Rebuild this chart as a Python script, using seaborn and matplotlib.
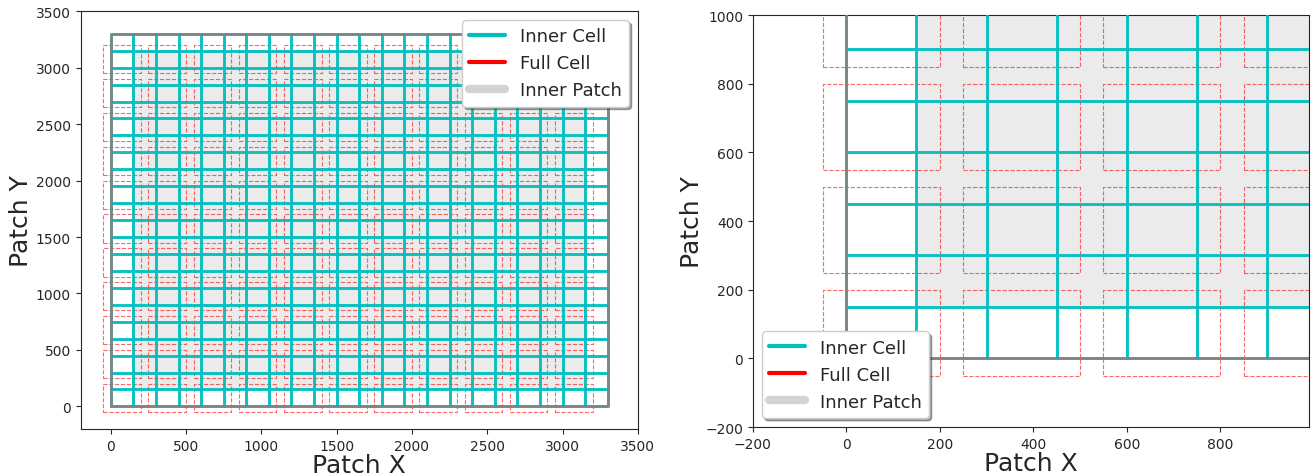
import pandas as pd
import seaborn as sns
import matplotlib.pyplot as plt
from matplotlib.lines import Line2D

# cell grid (patch units)
inner_edges = [0, 150, 300, 450, 600, 750, 900, 1050, 1200, 1350, 1500,
               1650, 1800, 1950, 2100, 2250, 2400, 2550, 2700, 2850, 3000, 3150]
inner_size = 150
full_edges = [-50, 250, 550, 850, 1150, 1450, 1750, 2050, 2350, 2650, 2950]
full_size = 250
patch_size = 3300
inner_patch = [150, 3150]

legend_labels = ["Inner Cell", "Full Cell", "Inner Patch"]


def outlines(origins, size):
    rows = []
    k = 0
    for x0 in origins:
        for y0 in origins:
            xs = [x0, x0 + size, x0 + size, x0, x0]
            ys = [y0, y0, y0 + size, y0 + size, y0]
            for x, y in zip(xs, ys):
                rows.append((k, x, y))
            k += 1
    return pd.DataFrame(rows, columns=["cell", "x", "y"])


inner_df = outlines(inner_edges, inner_size)
full_df = outlines(full_edges, full_size)
patch_df = outlines([0], patch_size)

sns.set_style("ticks")
plt.rcParams["font.family"] = ["DejaVu Sans"]

fig = plt.figure(figsize=(13.14, 4.77), dpi=100)
ax1 = fig.add_axes([0.0614, 0.0985, 0.424, 0.876])
ax2 = fig.add_axes([0.573, 0.1027, 0.4232, 0.8637])


def draw(ax, xlim, ylim, loc, ypad):
    ax.fill_between(inner_patch, inner_patch[0], inner_patch[1],
                    color="lightgray", alpha=0.45, lw=0, zorder=1)
    sns.lineplot(data=full_df, x="x", y="y", units="cell", estimator=None,
                 sort=False, color="red", lw=0.8, linestyle="--", alpha=0.6,
                 ax=ax, zorder=2, legend=False)
    sns.lineplot(data=inner_df, x="x", y="y", units="cell", estimator=None,
                 sort=False, color="c", lw=2, alpha=0.8, ax=ax, zorder=3,
                 legend=False)
    sns.lineplot(data=patch_df, x="x", y="y", units="cell", estimator=None,
                 sort=False, color="gray", lw=2, alpha=0.9, ax=ax, zorder=4,
                 legend=False)
    ax.set_xlim(xlim)
    ax.set_ylim(ylim)
    ax.set_xlabel("Patch X", fontsize=18, labelpad=0)
    ax.set_ylabel("Patch Y", fontsize=18, labelpad=ypad)
    ax.tick_params(labelsize=10)
    handles = [Line2D([], [], color="c", lw=3),
               Line2D([], [], color="red", lw=3),
               Line2D([], [], color="lightgray", lw=6)]
    ax.legend(handles, legend_labels, loc=loc, fontsize=13, frameon=True,
              shadow=True, fancybox=True, framealpha=1)


draw(ax1, (-200, 3500), (-200, 3500), "upper right", 2)
draw(ax2, (-200, 990), (-200, 1000), "lower left", 1)

fig.savefig("out.png", dpi=100)
